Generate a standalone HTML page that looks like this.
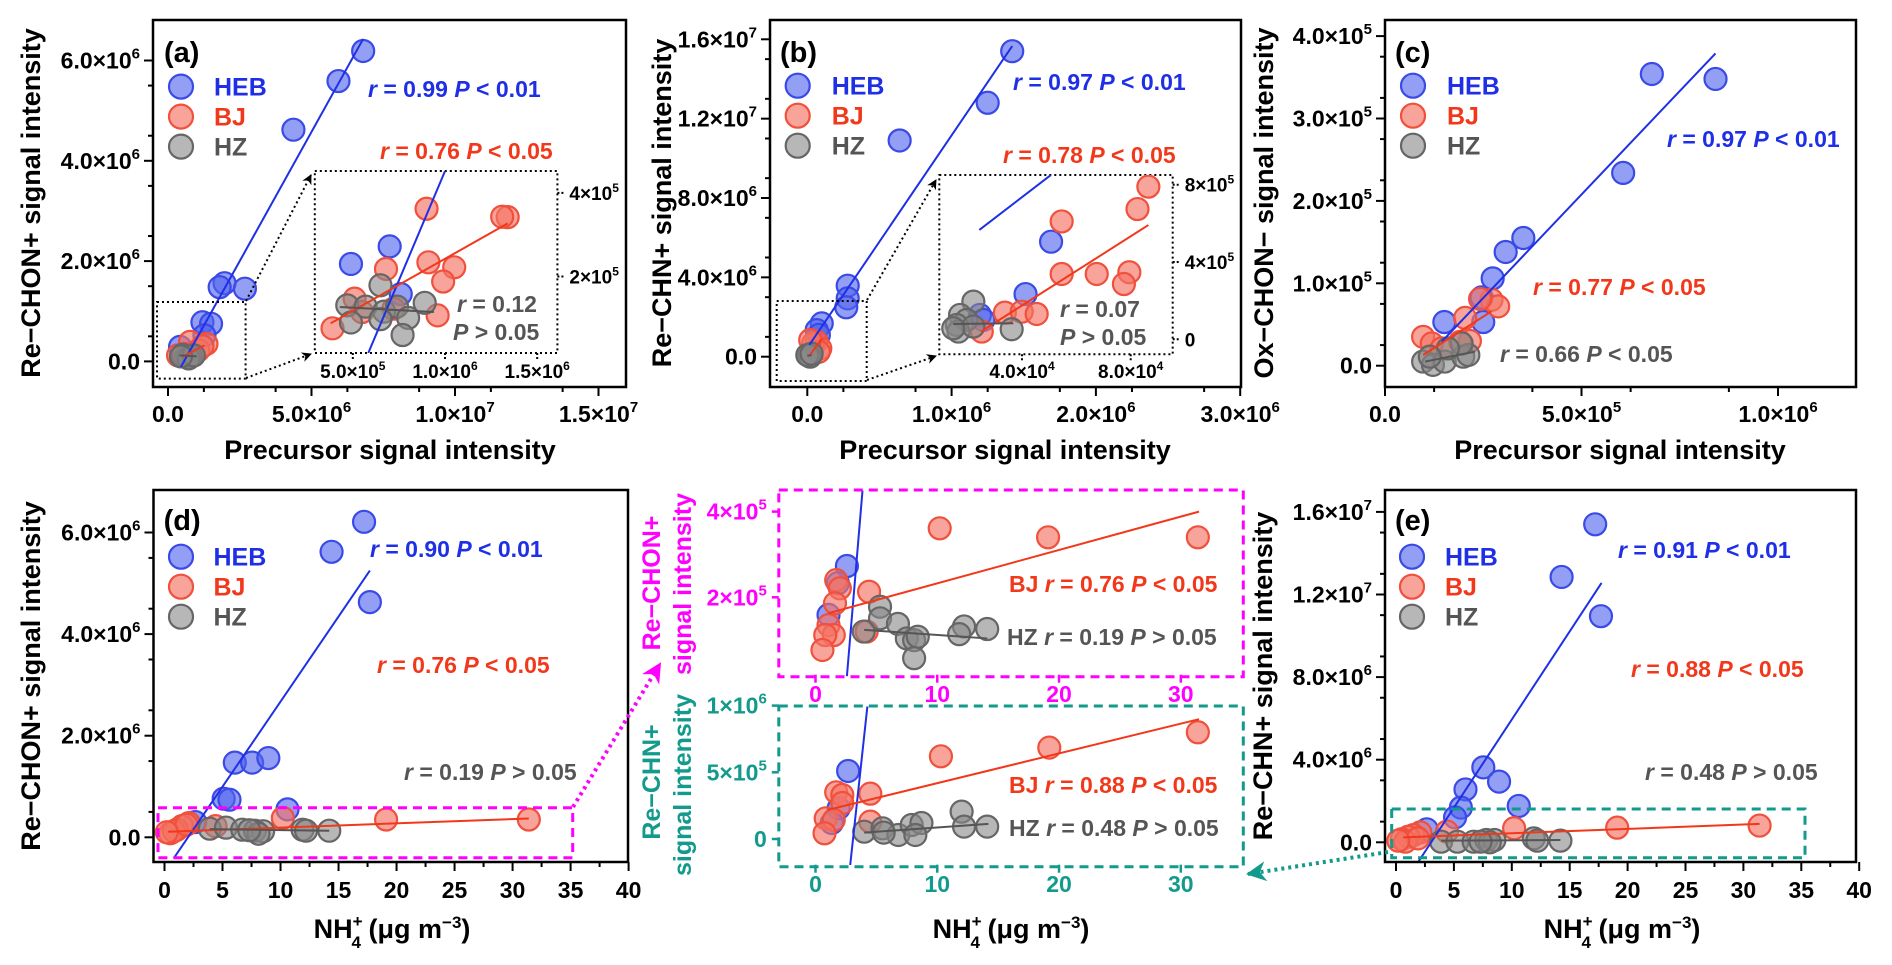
<!DOCTYPE html>
<html><head><meta charset="utf-8"><title>Correlation panels</title>
<style>
html,body{margin:0;padding:0;background:#fff;}
svg{display:block;font-family:"Liberation Sans",Arial,sans-serif;font-weight:bold;}
</style></head>
<body>
<svg id="chart" xmlns="http://www.w3.org/2000/svg" width="1892" height="965" viewBox="0 0 1892 965">
<defs>
<marker id="arrK" viewBox="0 0 10 10" refX="9" refY="5" markerWidth="5" markerHeight="5" orient="auto"><path d="M0,0 L10,5 L0,10 L3,5 z" fill="#000"/></marker>
<marker id="arrM" viewBox="0 0 10 10" refX="9" refY="5" markerWidth="5" markerHeight="5" orient="auto"><path d="M0,0 L10,5 L0,10 L3,5 z" fill="#ff00ff"/></marker>
<marker id="arrT" viewBox="0 0 10 10" refX="9" refY="5" markerWidth="5" markerHeight="5" orient="auto"><path d="M0,0 L10,5 L0,10 L3,5 z" fill="#129a8c"/></marker>
</defs>
</svg>
<script>
// ---------------- DATA ----------------
// Panel (a): Re-CHON+ vs precursor
const aHebX=[6.8e6,5.94e6,4.37e6,1.97e6,1.8e6,2.68e6,1.2e6,1.5e6,1.27e6,0.42e6];
const aHebY=[6.19e6,5.59e6,4.62e6,1.56e6,1.48e6,1.45e6,0.78e6,0.75e6,0.52e6,0.29e6];
const aBjX=[0.35e6,0.77e6,1.34e6,1.06e6,0.56e6,1.2e6];
const aBjY=[0.12e6,0.39e6,0.35e6,0.22e6,0.15e6,0.3e6];
const aHzX=[0.63e6,0.8e6,0.5e6,0.72e6,0.9e6,0.45e6];
const aHzY=[0.09e6,0.1e6,0.13e6,0.06e6,0.12e6,0.1e6];
const aHebFitX=[0.45e6,6.8e6], aHebFitY=[-0.11e6,6.43e6];
const aBjFitX=[0.49e6,1.27e6], aBjFitY=[0.09e6,0.32e6];
const aHzFitX=[0.4e6,1.0e6], aHzFitY=[0.12e6,0.1e6];
// Inset (a)
const aiHebX=[0.49e6,0.70e6,0.76e6], aiHebY=[2.3e5,2.72e5,1.58e5];
const aiBjX=[0.90e6,1.34e6,1.31e6,0.68e6,0.91e6,1.05e6,0.99e6,0.51e6,0.55e6,0.96e6,0.39e6,0.72e6];
const aiBjY=[3.62e5,3.42e5,3.43e5,2.18e5,2.34e5,2.22e5,1.88e5,1.47e5,1.15e5,1.07e5,0.76e5,1.23e5];
const aiHzX=[0.65e6,0.47e6,0.57e6,0.67e6,0.74e6,0.80e6,0.89e6,0.77e6,0.49e6,0.65e6];
const aiHzY=[1.79e5,1.31e5,1.28e5,1.16e5,1.28e5,1.01e5,1.37e5,0.60e5,0.90e5,0.98e5];
const aiHebFitX=[0.584e6,1.0e6], aiHebFitY=[0.17e5,4.52e5];
const aiBjFitX=[0.38e6,1.34e6], aiBjFitY=[0.88e5,3.27e5];
const aiHzFitX=[0.43e6,0.94e6], aiHzFitY=[1.27e5,1.15e5];
// Panel (b): Re-CHN+ vs precursor
const bHebX=[1.42e6,1.25e6,0.64e6,0.28e6,0.28e6,0.27e6,0.10e6,0.065e6,0.08e6];
const bHebY=[15.4e6,12.8e6,10.9e6,3.58e6,2.94e6,2.49e6,1.68e6,1.34e6,1.1e6];
const bBjX=[0.065e6,0.09e6,0.04e6,0.08e6,0.02e6];
const bBjY=[0.76e6,0.42e6,0.67e6,0.25e6,0.84e6];
const bHzX=[0.01e6,0.02e6,0.0,0.03e6];
const bHzY=[0.08e6,0.0,0.08e6,0.15e6];
const bHebFitX=[0.014e6,1.42e6], bHebFitY=[0.59e6,15.66e6];
const bBjFitX=[0.02e6,0.1e6], bBjFitY=[0.1e6,0.9e6];
const bHzFitX=[0.0,0.03e6], bHzFitY=[0.05e6,0.08e6];
// Inset (b)
const biHebX=[5.07e4,4.13e4,2.45e4,2.58e4], biHebY=[5.05e5,2.34e5,1.26e5,1.0e5];
const biBjX=[8.65e4,8.25e4,5.46e4,5.46e4,6.75e4,7.95e4,7.75e4,3.37e4,3.99e4,4.54e4,2.52e4];
const biBjY=[7.9e5,6.74e5,6.1e5,3.38e5,3.38e5,3.47e5,2.86e5,1.38e5,1.43e5,1.31e5,0.40e5];
const biHzX=[2.21e4,1.72e4,1.96e4,1.6e4,1.66e4,2.21e4,3.62e4,1.47e4];
const biHzY=[1.95e5,1.26e5,1.0e5,0.74e5,0.40e5,0.66e5,0.52e5,0.57e5];
const biHebFitX=[2.43e4,5.06e4], biHebFitY=[5.66e5,8.5e5];
const biBjFitX=[2.49e4,8.65e4], biBjFitY=[0.4e5,5.91e5];
const biHzFitX=[1.47e4,3.68e4], biHzFitY=[0.79e5,0.83e5];
// Panel (c): Ox-CHON- vs precursor
const cHebX=[6.79e5,8.41e5,6.06e5,3.52e5,3.07e5,2.74e5,2.46e5,2.50e5,1.51e5];
const cHebY=[3.54e5,3.48e5,2.34e5,1.55e5,1.38e5,1.06e5,0.83e5,0.53e5,0.53e5];
const cBjX=[2.71e5,2.88e5,2.42e5,2.04e5,0.97e5,1.19e5,2.16e5,1.91e5,1.44e5];
const cBjY=[0.80e5,0.72e5,0.81e5,0.58e5,0.35e5,0.27e5,0.30e5,0.29e5,0.21e5];
const cHzX=[0.97e5,1.22e5,1.52e5,1.99e5,2.12e5,1.95e5,1.60e5,1.14e5];
const cHzY=[0.05e5,0.01e5,0.05e5,0.11e5,0.13e5,0.27e5,0.21e5,0.11e5];
const cHebFitX=[1.44e5,8.41e5], cHebFitY=[0.29e5,3.79e5];
const cBjFitX=[0.97e5,2.71e5], cBjFitY=[0.13e5,0.66e5];
const cHzFitX=[1.02e5,2.29e5], cHzFitY=[0.05e5,0.17e5];
// Panel (d): Re-CHON+ vs NH4+
const dHebX=[17.2,14.4,17.7,6.06,7.55,8.95,5.1,5.6,10.6,2.65];
const dHebY=[6.21e6,5.62e6,4.63e6,1.47e6,1.47e6,1.56e6,0.76e6,0.74e6,0.55e6,0.3e6];
const dBjX=[31.4,19.1,10.2,4.4,2.1,1.5,1.06,0.5,0.8,1.9,0.2];
const dBjY=[0.35e6,0.35e6,0.38e6,0.22e6,0.28e6,0.22e6,0.15e6,0.08e6,0.12e6,0.25e6,0.10e6];
const dHzX=[3.9,5.3,6.7,7.8,8.5,8.1,11.9,12.2,14.2,7.3];
const dHzY=[0.17e6,0.19e6,0.15e6,0.13e6,0.12e6,0.07e6,0.15e6,0.13e6,0.13e6,0.14e6];
const dHebFitX=[0.8,17.7], dHebFitY=[-0.41e6,5.25e6];
const dBjFitX=[0.3,31.4], dBjFitY=[0.11e6,0.37e6];
const dHzFitX=[3.9,14.2], dHzFitY=[0.16e6,0.13e6];
// Panel (e): Re-CHN+ vs NH4+
const eHebX=[17.2,14.3,17.7,7.54,8.9,6.0,5.6,5.1,10.6,2.65];
const eHebY=[15.4e6,12.85e6,10.95e6,3.63e6,2.94e6,2.56e6,1.68e6,1.21e6,1.76e6,0.63e6];
const eBjX=[31.4,19.1,10.2,4.4,2.1,1.5,1.06,0.5,0.8,1.9,0.2];
const eBjY=[0.81e6,0.71e6,0.68e6,0.52e6,0.48e6,0.35e6,0.27e6,0.15e6,0.03e6,0.19e6,0.08e6];
const eHzX=[3.9,5.3,6.7,7.8,8.5,8.1,11.9,12.2,14.2,7.3];
const eHzY=[0.03e6,0.03e6,0.03e6,0.11e6,0.11e6,0.0,0.19e6,0.08e6,0.08e6,0.03e6];
const eHebFitX=[1.84,17.75], eHebFitY=[-1.02e6,12.56e6];
const eBjFitX=[0.63,31.4], eBjFitY=[0.24e6,0.89e6];
const eHzFitX=[3.9,14.2], eHzFitY=[0.08e6,0.11e6];
// Middle zoom (top, magenta): Re-CHON+
const m1HebX=[2.58,1.84,1.07], m1HebY=[2.73e5,2.33e5,1.59e5];
const m1BjX=[10.2,19.1,31.4,4.4,1.7,2.0,1.6,1.07,1.5,0.8,0.57,4.2];
const m1BjY=[3.61e5,3.40e5,3.40e5,2.13e5,2.4e5,2.21e5,1.86e5,1.35e5,1.12e5,1.12e5,0.77e5,1.2e5];
const m1HzX=[5.3,5.3,3.96,6.77,7.5,8.1,8.4,8.1,12.2,11.8,14.1];
const m1HzY=[1.78e5,1.51e5,1.2e5,1.38e5,1.04e5,1.0e5,1.08e5,0.58e5,1.32e5,1.14e5,1.26e5];
const m1HebFitX=[2.58,3.86], m1HebFitY=[0.16e5,4.49e5];
const m1BjFitX=[1.07,31.5], m1BjFitY=[1.63e5,4.0e5];
const m1HzFitX=[4.0,14.1], m1HzFitY=[1.24e5,1.04e5];
// Middle zoom (bottom, teal): Re-CHN+
const m2HebX=[2.68,1.9,1.34], m2HebY=[5.1e5,2.3e5,1.2e5];
const m2BjX=[10.3,19.2,31.4,4.5,1.7,2.2,2.2,0.84,1.5,0.74,4.5];
const m2BjY=[6.2e5,6.85e5,8.0e5,3.4e5,3.5e5,3.3e5,2.7e5,1.55e5,1.43e5,0.43e5,1.3e5];
const m2HzX=[12.0,4.0,5.5,6.8,7.9,8.7,8.2,12.2,14.1,5.6];
const m2HzY=[2.05e5,0.55e5,0.8e5,0.3e5,1.05e5,1.2e5,0.3e5,0.93e5,0.93e5,0.48e5];
const m2HebFitX=[2.85,4.26], m2HebFitY=[-1.95e5,9.93e5];
const m2BjFitX=[1.0,31.5], m2BjFitY=[2.18e5,8.98e5];
const m2HzFitX=[4.0,14.2], m2HzFitY=[0.48e5,1.13e5];
// Tick values & labels
const aXTicks=[0,5e6,1e7,1.5e7], aXLabels=["0.0","5.0×10^6","1.0×10^7","1.5×10^7"];
const aYTicks=[0,2e6,4e6,6e6], aYLabels=["0.0","2.0×10^6","4.0×10^6","6.0×10^6"];
const aiXTicks=[5e5,1e6,1.5e6], aiXLabels=["5.0×10^5","1.0×10^6","1.5×10^6"];
const aiYTicks=[2e5,4e5], aiYLabels=["2×10^5","4×10^5"];
const bXTicks=[0,1e6,2e6,3e6], bXLabels=["0.0","1.0×10^6","2.0×10^6","3.0×10^6"];
const bYTicks=[0,4e6,8e6,1.2e7,1.6e7], bYLabels=["0.0","4.0×10^6","8.0×10^6","1.2×10^7","1.6×10^7"];
const biXTicks=[4e4,8e4], biXLabels=["4.0×10^4","8.0×10^4"];
const biYTicks=[0,4e5,8e5], biYLabels=["0","4×10^5","8×10^5"];
const cXTicks=[0,5e5,1e6], cXLabels=["0.0","5.0×10^5","1.0×10^6"];
const cYTicks=[0,1e5,2e5,3e5,4e5], cYLabels=["0.0","1.0×10^5","2.0×10^5","3.0×10^5","4.0×10^5"];
const nhTicks=[0,5,10,15,20,25,30,35,40], nhLabels=["0","5","10","15","20","25","30","35","40"];
const dYTicks=[0,2e6,4e6,6e6], dYLabels=["0.0","2.0×10^6","4.0×10^6","6.0×10^6"];
const eYTicks=[0,4e6,8e6,1.2e7,1.6e7], eYLabels=["0.0","4.0×10^6","8.0×10^6","1.2×10^7","1.6×10^7"];
const mXTicks=[0,10,20,30], mXLabels=["0","10","20","30"];
const m1YTicks=[2e5,4e5], m1YLabels=["2×10^5","4×10^5"];
const m2YTicks=[0,5e5,1e6], m2YLabels=["0","5×10^5","1×10^6"];

// ---------------- DRAWING ----------------
const NS='http://www.w3.org/2000/svg';
const svg=document.getElementById('chart');
const BLUE='#1f2fe6', RED='#f2381a', GRAY='#555555', MAG='#ff00ff', TEAL='#129a8c';
const STY={
  heb:{fill:'rgba(80,100,238,0.62)',stroke:'#3a4ae6',line:'#1f2fe6'},
  bj:{fill:'rgba(245,115,100,0.65)',stroke:'#f0503c',line:'#f2381a'},
  hz:{fill:'rgba(135,135,135,0.6)',stroke:'#666666',line:'#555555'}
};
function mk(tag,attrs,name,parent){
  const el=document.createElementNS(NS,tag);
  for(const k in attrs) el.setAttribute(k,attrs[k]);
  
  
  (parent||svg).appendChild(el);
  return el;
}
function lin(v0,p0,v1,p1){return v=>p0+(v-v0)*(p1-p0)/(v1-v0);}
let clipN=0;
function clip(x0,y0,x1,y1){
  const id='clip'+(clipN++);
  const cp=document.createElementNS(NS,'clipPath');cp.setAttribute('id',id);
  const r=document.createElementNS(NS,'rect');
  r.setAttribute('x',x0);r.setAttribute('y',y0);r.setAttribute('width',x1-x0);r.setAttribute('height',y1-y0);
  cp.appendChild(r);svg.querySelector('defs').appendChild(cp);
  return id;
}
// rich text: segments [{t, i, sup, sub, dx, dy, fs}]
function rich(x,y,segs,opt,name){
  const t=mk('text',{x:x,y:y,'font-size':opt.fs||24,fill:opt.fill||'#000','text-anchor':opt.anchor||'start'},name,opt.parent);
  if(opt.rot) t.setAttribute('transform','rotate(-90 '+x+' '+y+')');
  segs.forEach(s=>{
    const sp=document.createElementNS(NS,'tspan');
    sp.textContent=s.t;
    if(s.i) sp.setAttribute('font-style','italic');
    if(s.fs) sp.setAttribute('font-size',s.fs);
    if(s.dy) sp.setAttribute('dy',s.dy);
    if(s.dx) sp.setAttribute('dx',s.dx);
    t.appendChild(sp);
  });
  return t;
}
function sciSegs(str,fs){
  const p=str.split('^');
  if(p.length===1) return [{t:str}];
  return [{t:p[0]},{t:p[1],fs:Math.round(fs*0.64),dy:-Math.round(fs*0.42)}];
}
function statSegs(prefix,r,sign,p){
  const s=[];
  if(prefix) s.push({t:prefix+' '});
  s.push({t:'r',i:true},{t:' = '+r+' '},{t:'P',i:true},{t:' '+sign+' '+p});
  return s;
}
function scatter(xs,ys,sx,sy,sty,name,g,r){
  for(let i=0;i<xs.length;i++){
    const c=mk('circle',{cx:sx(xs[i]),cy:sy(ys[i]),r:r||11,fill:sty.fill,stroke:sty.stroke,'stroke-width':2.2},name,g);
  }
}
function fit(fx,fy,sx,sy,color,name,g){
  mk('line',{x1:sx(fx[0]),y1:sy(fy[0]),x2:sx(fx[1]),y2:sy(fy[1]),stroke:color,'stroke-width':2},name,g);
}
function frame(f,name){
  mk('rect',{x:f[0],y:f[1],width:f[2]-f[0],height:f[3]-f[1],fill:'none',stroke:'#000','stroke-width':2.5},name);
}
function xAxis(f,sx,ticks,labels,minorStep,base,fs,name){
  ticks.forEach((v,i)=>{
    mk('line',{x1:sx(v),y1:f[3],x2:sx(v),y2:f[3]+9,stroke:'#000','stroke-width':2},name+'-tick');
    rich(sx(v),base,sciSegs(labels[i],fs),{fs:fs,anchor:'middle'},name+'-label');
  });
  if(minorStep){
    for(let v=ticks[0]+minorStep/2; v<ticks[ticks.length-1]; v+=minorStep){
      mk('line',{x1:sx(v),y1:f[3],x2:sx(v),y2:f[3]+5,stroke:'#000','stroke-width':2},name+'-minor-tick');
    }
  }
}
function yAxis(f,sy,ticks,labels,minorStep,fs,name){
  ticks.forEach((v,i)=>{
    mk('line',{x1:f[0]-9,y1:sy(v),x2:f[0],y2:sy(v),stroke:'#000','stroke-width':2},name+'-tick');
    rich(f[0]-13,sy(v)+8,sciSegs(labels[i],fs),{fs:fs,anchor:'end'},name+'-label');
  });
  if(minorStep){
    for(let v=ticks[0]+minorStep/2; v<ticks[ticks.length-1]; v+=minorStep){
      mk('line',{x1:f[0]-5,y1:sy(v),x2:f[0],y2:sy(v),stroke:'#000','stroke-width':2},name+'-minor-tick');
    }
  }
}
function legend(cx,cy0,tx,name){
  const items=[['HEB',STY.heb,BLUE],['BJ',STY.bj,RED],['HZ',STY.hz,GRAY]];
  items.forEach((it,i)=>{
    const cy=cy0+i*30;
    mk('circle',{cx:cx,cy:cy,r:12,fill:it[1].fill,stroke:it[1].stroke,'stroke-width':2.2},name+'-marker-'+it[0].toLowerCase());
    rich(tx,cy+9,[{t:it[0]}],{fs:25,fill:it[2]},name+'-label-'+it[0].toLowerCase());
  });
}
function group(cid,name){
  const g=mk('g',{'clip-path':'url(#'+cid+')'},name);
  return g;
}
function seriesSet(sx,sy,g,S,name){
  scatter(S[0],S[1],sx,sy,STY.heb,name+'-heb-point',g);
  scatter(S[2],S[3],sx,sy,STY.bj,name+'-bj-point',g);
  scatter(S[4],S[5],sx,sy,STY.hz,name+'-hz-point',g);
  fit(S[6],S[7],sx,sy,STY.heb.line,name+'-heb-fit',g);
  fit(S[8],S[9],sx,sy,STY.bj.line,name+'-bj-fit',g);
  fit(S[10],S[11],sx,sy,STY.hz.line,name+'-hz-fit',g);
}
const FS=23;
const NH4=[{t:'NH'},{t:'+',fs:17,dy:-11},{t:'4',fs:17,dx:-11,dy:21},{t:' (μg m',dy:-10},{t:'−3',fs:17,dy:-10},{t:')',dy:10}];

// ===== Panel (a) =====
(function(){
  const f=[153,20,626,387];
  const sx=lin(0,168,5e6,311.5), sy=lin(0,361.4,2e6,261.1);
  const g=group(clip(f[0],f[1],f[2],f[3]),'panel-a-plot');
  seriesSet(sx,sy,g,[aHebX,aHebY,aBjX,aBjY,aHzX,aHzY,aHebFitX,aHebFitY,aBjFitX,aBjFitY,aHzFitX,aHzFitY],'panel-a');
  frame(f,'panel-a-frame');
  xAxis(f,sx,aXTicks,aXLabels,2.5e6,422,FS,'panel-a-x');
  yAxis(f,sy,aYTicks,aYLabels,1e6,FS,'panel-a-y');
  // zoom box + inset
  mk('rect',{x:157,y:302,width:88.6,height:76.6,fill:'none',stroke:'#000','stroke-width':2,'stroke-dasharray':'2,3'},'panel-a-zoom-box');
  mk('line',{x1:246,y1:301,x2:311,y2:175,stroke:'#000','stroke-width':2,'stroke-dasharray':'2,3','marker-end':'url(#arrK)'},'panel-a-zoom-arrow-top');
  mk('line',{x1:246,y1:378,x2:311,y2:354,stroke:'#000','stroke-width':2,'stroke-dasharray':'2,3','marker-end':'url(#arrK)'},'panel-a-zoom-arrow-bottom');
  const ib=[314.8,171,557.4,353];
  const ix=lin(5e5,352.8,1e6,445), iy=lin(2e5,276.5,4e5,192.9);
  mk('rect',{x:ib[0],y:ib[1],width:ib[2]-ib[0],height:ib[3]-ib[1],fill:'none',stroke:'#000','stroke-width':2,'stroke-dasharray':'2,3'},'panel-a-inset-box');
  const gi=group(clip(ib[0],ib[1],ib[2],ib[3]),'panel-a-inset-plot');
  seriesSet(ix,iy,gi,[aiHebX,aiHebY,aiBjX,aiBjY,aiHzX,aiHzY,aiHebFitX,aiHebFitY,aiBjFitX,aiBjFitY,aiHzFitX,aiHzFitY],'panel-a-inset');
  aiYTicks.forEach((v,i)=>{
    mk('line',{x1:ib[2],y1:iy(v),x2:ib[2]+8,y2:iy(v),stroke:'#000','stroke-width':2,'stroke-dasharray':'2,2'},'panel-a-inset-y-tick');
    rich(ib[2]+12,iy(v)+7,sciSegs(aiYLabels[i],19),{fs:19},'panel-a-inset-y-label');
  });
  aiXTicks.forEach((v,i)=>{
    mk('line',{x1:ix(v),y1:ib[3],x2:ix(v),y2:ib[3]+7,stroke:'#000','stroke-width':2,'stroke-dasharray':'2,2'},'panel-a-inset-x-tick');
    rich(ix(v),378,sciSegs(aiXLabels[i],19),{fs:19,anchor:'middle'},'panel-a-inset-x-label');
  });
  rich(164,62,[{t:'(a)'}],{fs:29},'panel-a-label');
  legend(181,86.6,214,'panel-a-legend');
  rich(368,97,statSegs('', '0.99','<','0.01'),{fs:FS,fill:BLUE},'panel-a-heb-stat');
  rich(380,159,statSegs('', '0.76','<','0.05'),{fs:FS,fill:RED},'panel-a-bj-stat');
  rich(457,312,[{t:'r',i:true},{t:' = 0.12'}],{fs:FS,fill:GRAY},'panel-a-hz-stat-r');
  rich(453,340,[{t:'P',i:true},{t:' > 0.05'}],{fs:FS,fill:GRAY},'panel-a-hz-stat-p');
  rich(40,203,[{t:'Re−CHON+ signal intensity'}],{fs:27,anchor:'middle',rot:true},'panel-a-y-title');
  rich(390,459,[{t:'Precursor signal intensity'}],{fs:27,anchor:'middle'},'panel-a-x-title');
})();

// ===== Panel (b) =====
(function(){
  const f=[770,20,1241,387];
  const sx=lin(0,807.3,1e6,951.6), sy=lin(0,356.7,4e6,277.35);
  const g=group(clip(f[0],f[1],f[2],f[3]),'panel-b-plot');
  seriesSet(sx,sy,g,[bHebX,bHebY,bBjX,bBjY,bHzX,bHzY,bHebFitX,bHebFitY,bBjFitX,bBjFitY,bHzFitX,bHzFitY],'panel-b');
  frame(f,'panel-b-frame');
  xAxis(f,sx,bXTicks,bXLabels,0.5e6,422,FS,'panel-b-x');
  yAxis(f,sy,bYTicks,bYLabels,2e6,FS,'panel-b-y');
  mk('rect',{x:776.7,y:301,width:90,height:80,fill:'none',stroke:'#000','stroke-width':2,'stroke-dasharray':'2,3'},'panel-b-zoom-box');
  mk('line',{x1:867,y1:300,x2:936,y2:180,stroke:'#000','stroke-width':2,'stroke-dasharray':'2,3','marker-end':'url(#arrK)'},'panel-b-zoom-arrow-top');
  mk('line',{x1:867,y1:380,x2:936,y2:356,stroke:'#000','stroke-width':2,'stroke-dasharray':'2,3','marker-end':'url(#arrK)'},'panel-b-zoom-arrow-bottom');
  const ib=[939.3,175,1172.7,354.3];
  const ix=lin(0,913.3,4e4,1022), iy=lin(0,339.3,4e5,262);
  mk('rect',{x:ib[0],y:ib[1],width:ib[2]-ib[0],height:ib[3]-ib[1],fill:'none',stroke:'#000','stroke-width':2,'stroke-dasharray':'2,3'},'panel-b-inset-box');
  const gi=group(clip(ib[0],ib[1],ib[2],ib[3]),'panel-b-inset-plot');
  seriesSet(ix,iy,gi,[biHebX,biHebY,biBjX,biBjY,biHzX,biHzY,biHebFitX,biHebFitY,biBjFitX,biBjFitY,biHzFitX,biHzFitY],'panel-b-inset');
  biYTicks.forEach((v,i)=>{
    mk('line',{x1:ib[2],y1:iy(v),x2:ib[2]+8,y2:iy(v),stroke:'#000','stroke-width':2,'stroke-dasharray':'2,2'},'panel-b-inset-y-tick');
    rich(ib[2]+12,iy(v)+7,sciSegs(biYLabels[i],19),{fs:19},'panel-b-inset-y-label');
  });
  biXTicks.forEach((v,i)=>{
    mk('line',{x1:ix(v),y1:ib[3],x2:ix(v),y2:ib[3]+7,stroke:'#000','stroke-width':2,'stroke-dasharray':'2,2'},'panel-b-inset-x-tick');
    rich(ix(v),378,sciSegs(biXLabels[i],19),{fs:19,anchor:'middle'},'panel-b-inset-x-label');
  });
  rich(780,62,[{t:'(b)'}],{fs:29},'panel-b-label');
  legend(797.7,85.7,831.7,'panel-b-legend');
  rich(1013,90,statSegs('', '0.97','<','0.01'),{fs:FS,fill:BLUE},'panel-b-heb-stat');
  rich(1003,163,statSegs('', '0.78','<','0.05'),{fs:FS,fill:RED},'panel-b-bj-stat');
  rich(1060,317,[{t:'r',i:true},{t:' = 0.07'}],{fs:FS,fill:GRAY},'panel-b-hz-stat-r');
  rich(1060,345,[{t:'P',i:true},{t:' > 0.05'}],{fs:FS,fill:GRAY},'panel-b-hz-stat-p');
  rich(671,203,[{t:'Re−CHN+ signal intensity'}],{fs:27,anchor:'middle',rot:true},'panel-b-y-title');
  rich(1005,459,[{t:'Precursor signal intensity'}],{fs:27,anchor:'middle'},'panel-b-x-title');
})();

// ===== Panel (c) =====
(function(){
  const f=[1385,20,1856,387];
  const sx=lin(0,1385,1e6,1778), sy=lin(0,365.7,1e5,283.3);
  const g=group(clip(f[0],f[1],f[2],f[3]),'panel-c-plot');
  seriesSet(sx,sy,g,[cHebX,cHebY,cBjX,cBjY,cHzX,cHzY,cHebFitX,cHebFitY,cBjFitX,cBjFitY,cHzFitX,cHzFitY],'panel-c');
  frame(f,'panel-c-frame');
  xAxis(f,sx,cXTicks,cXLabels,2.5e5,422,FS,'panel-c-x');
  yAxis(f,sy,cYTicks,cYLabels,0.5e5,FS,'panel-c-y');
  rich(1395,62,[{t:'(c)'}],{fs:29},'panel-c-label');
  legend(1413,85.7,1447,'panel-c-legend');
  rich(1667,147,statSegs('', '0.97','<','0.01'),{fs:FS,fill:BLUE},'panel-c-heb-stat');
  rich(1533,295,statSegs('', '0.77','<','0.05'),{fs:FS,fill:RED},'panel-c-bj-stat');
  rich(1500,362,statSegs('', '0.66','<','0.05'),{fs:FS,fill:GRAY},'panel-c-hz-stat');
  rich(1273,203,[{t:'Ox−CHON− signal intensity'}],{fs:27,anchor:'middle',rot:true},'panel-c-y-title');
  rich(1620,459,[{t:'Precursor signal intensity'}],{fs:27,anchor:'middle'},'panel-c-x-title');
})();

// ===== Panel (d) =====
(function(){
  const f=[153.5,490,628,862];
  const sx=lin(0,164.5,40,628.6), sy=lin(0,837.3,2e6,735.7);
  const g=group(clip(f[0],f[1],f[2],f[3]),'panel-d-plot');
  seriesSet(sx,sy,g,[dHebX,dHebY,dBjX,dBjY,dHzX,dHzY,dHebFitX,dHebFitY,dBjFitX,dBjFitY,dHzFitX,dHzFitY],'panel-d');
  frame(f,'panel-d-frame');
  xAxis(f,sx,nhTicks,nhLabels,5,898,FS,'panel-d-x');
  yAxis(f,sy,dYTicks,dYLabels,1e6,FS,'panel-d-y');
  mk('rect',{x:158,y:807.7,width:414.7,height:50,fill:'none',stroke:MAG,'stroke-width':3,'stroke-dasharray':'9,6'},'panel-d-zoom-box');
  rich(163.6,530,[{t:'(d)'}],{fs:29},'panel-d-label');
  legend(181,556.7,213.5,'panel-d-legend');
  rich(370,557,statSegs('', '0.90','<','0.01'),{fs:FS,fill:BLUE},'panel-d-heb-stat');
  rich(377,673,statSegs('', '0.76','<','0.05'),{fs:FS,fill:RED},'panel-d-bj-stat');
  rich(404,780,[{t:'r',i:true},{t:' = 0.19  '},{t:'P',i:true},{t:' > 0.05'}],{fs:FS,fill:GRAY},'panel-d-hz-stat');
  rich(40,676,[{t:'Re−CHON+ signal intensity'}],{fs:27,anchor:'middle',rot:true},'panel-d-y-title');
  rich(392,938,NH4,{fs:27,anchor:'middle'},'panel-d-x-title');
})();

// ===== Panel (e) =====
(function(){
  const f=[1385,490,1856,862];
  const sx=lin(0,1396,40,1859.2), sy=lin(0,842.3,4e6,759.7);
  const g=group(clip(f[0],f[1],f[2],f[3]),'panel-e-plot');
  seriesSet(sx,sy,g,[eHebX,eHebY,eBjX,eBjY,eHzX,eHzY,eHebFitX,eHebFitY,eBjFitX,eBjFitY,eHzFitX,eHzFitY],'panel-e');
  frame(f,'panel-e-frame');
  xAxis(f,sx,nhTicks,nhLabels,5,898,FS,'panel-e-x');
  yAxis(f,sy,eYTicks,eYLabels,2e6,FS,'panel-e-y');
  mk('rect',{x:1391.7,y:809,width:413.3,height:48.7,fill:'none',stroke:TEAL,'stroke-width':3,'stroke-dasharray':'9,6'},'panel-e-zoom-box');
  rich(1395,530,[{t:'(e)'}],{fs:29},'panel-e-label');
  legend(1412,556.7,1445,'panel-e-legend');
  rich(1618,558,statSegs('', '0.91','<','0.01'),{fs:FS,fill:BLUE},'panel-e-heb-stat');
  rich(1631,677,statSegs('', '0.88','<','0.05'),{fs:FS,fill:RED},'panel-e-bj-stat');
  rich(1645,780,statSegs('', '0.48','>','0.05'),{fs:FS,fill:GRAY},'panel-e-hz-stat');
  rich(1272,676,[{t:'Re−CHN+ signal intensity'}],{fs:27,anchor:'middle',rot:true},'panel-e-y-title');
  rich(1622,938,NH4,{fs:27,anchor:'middle'},'panel-e-x-title');
})();

// ===== Middle zoomed panels =====
(function(){
  const sx=lin(0,815.5,30,1180.8);
  // top magenta
  const b1=[778.8,490,1243.3,676.7];
  const sy1=lin(0,683,2e5,597.3);
  const g1=group(clip(b1[0],b1[1],b1[2],b1[3]),'middle-top-plot');
  seriesSet(sx,sy1,g1,[m1HebX,m1HebY,m1BjX,m1BjY,m1HzX,m1HzY,m1HebFitX,m1HebFitY,m1BjFitX,m1BjFitY,m1HzFitX,m1HzFitY],'middle-top');
  mk('rect',{x:b1[0],y:b1[1],width:b1[2]-b1[0],height:b1[3]-b1[1],fill:'none',stroke:MAG,'stroke-width':3,'stroke-dasharray':'9,6'},'middle-top-box');
  m1YTicks.forEach((v,i)=>{
    mk('line',{x1:b1[0]-7,y1:sy1(v),x2:b1[0],y2:sy1(v),stroke:MAG,'stroke-width':2.5},'middle-top-y-tick');
    rich(b1[0]-12,sy1(v)+8,sciSegs(m1YLabels[i],FS),{fs:FS,anchor:'end',fill:MAG},'middle-top-y-label');
  });
  mXTicks.forEach((v,i)=>{
    mk('line',{x1:sx(v),y1:b1[3]-2,x2:sx(v),y2:b1[3]+6,stroke:MAG,'stroke-width':2.5},'middle-top-x-tick');
    rich(sx(v),702,[{t:mXLabels[i]}],{fs:FS,anchor:'middle',fill:MAG},'middle-top-x-label');
  });
  rich(1009,592,statSegs('BJ','0.76','<','0.05'),{fs:FS,fill:RED},'middle-top-bj-stat');
  rich(1007,645,statSegs('HZ','0.19','>','0.05'),{fs:FS,fill:GRAY},'middle-top-hz-stat');
  rich(660,583,[{t:'Re−CHON+'}],{fs:25,anchor:'middle',rot:true,fill:MAG},'middle-top-y-title-1');
  rich(691,584,[{t:'signal intensity'}],{fs:25,anchor:'middle',rot:true,fill:MAG},'middle-top-y-title-2');
  // bottom teal
  const b2=[778.8,706,1243.3,866.7];
  const sy2=lin(0,839,5e5,772.3);
  const g2=group(clip(b2[0],b2[1],b2[2],b2[3]),'middle-bottom-plot');
  seriesSet(sx,sy2,g2,[m2HebX,m2HebY,m2BjX,m2BjY,m2HzX,m2HzY,m2HebFitX,m2HebFitY,m2BjFitX,m2BjFitY,m2HzFitX,m2HzFitY],'middle-bottom');
  mk('rect',{x:b2[0],y:b2[1],width:b2[2]-b2[0],height:b2[3]-b2[1],fill:'none',stroke:TEAL,'stroke-width':3,'stroke-dasharray':'9,6'},'middle-bottom-box');
  m2YTicks.forEach((v,i)=>{
    mk('line',{x1:b2[0]-7,y1:sy2(v),x2:b2[0],y2:sy2(v),stroke:TEAL,'stroke-width':2.5},'middle-bottom-y-tick');
    rich(b2[0]-12,sy2(v)+8,sciSegs(m2YLabels[i],FS),{fs:FS,anchor:'end',fill:TEAL},'middle-bottom-y-label');
  });
  mXTicks.forEach((v,i)=>{
    mk('line',{x1:sx(v),y1:b2[3]-2,x2:sx(v),y2:b2[3]+6,stroke:TEAL,'stroke-width':2.5},'middle-bottom-x-tick');
    rich(sx(v),892,[{t:mXLabels[i]}],{fs:FS,anchor:'middle',fill:TEAL},'middle-bottom-x-label');
  });
  rich(1009,793,statSegs('BJ','0.88','<','0.05'),{fs:FS,fill:RED},'middle-bottom-bj-stat');
  rich(1009,836,statSegs('HZ','0.48','>','0.05'),{fs:FS,fill:GRAY},'middle-bottom-hz-stat');
  rich(660,782,[{t:'Re−CHN+'}],{fs:25,anchor:'middle',rot:true,fill:TEAL},'middle-bottom-y-title-1');
  rich(691,785,[{t:'signal intensity'}],{fs:25,anchor:'middle',rot:true,fill:TEAL},'middle-bottom-y-title-2');
  rich(1011,938,NH4,{fs:27,anchor:'middle'},'middle-x-title');
  // connector arrows
  mk('line',{x1:573,y1:807,x2:660,y2:664,stroke:MAG,'stroke-width':4,'stroke-dasharray':'3,4','marker-end':'url(#arrM)'},'magenta-connector-arrow');
  mk('line',{x1:1388,y1:852,x2:1248,y2:874,stroke:TEAL,'stroke-width':4,'stroke-dasharray':'3,4','marker-end':'url(#arrT)'},'teal-connector-arrow');
})();
</script>
</body></html>
